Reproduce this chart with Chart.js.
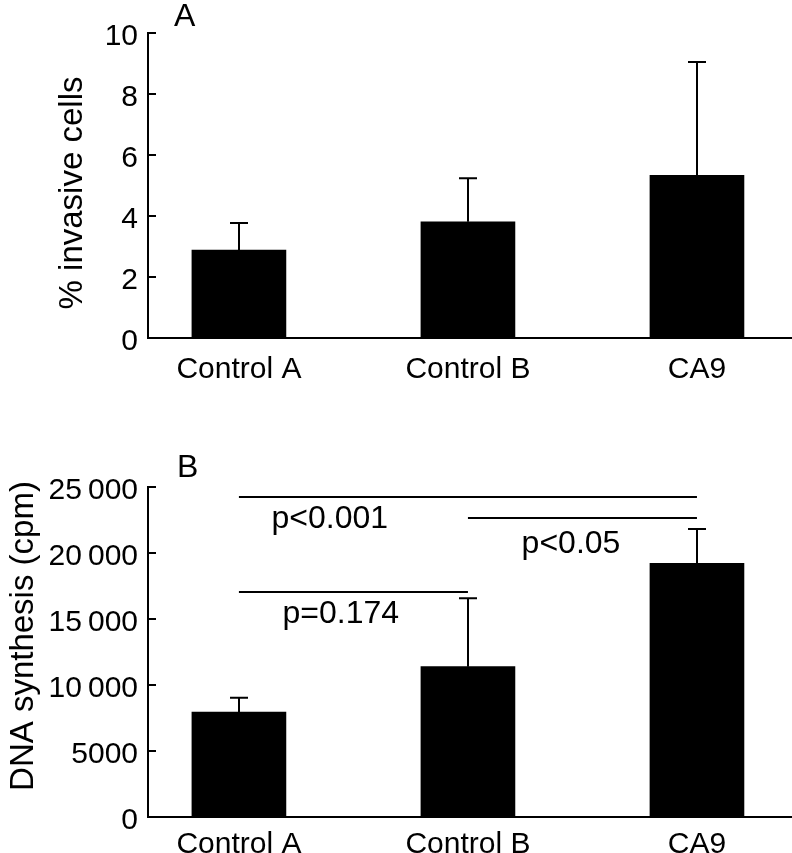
<!DOCTYPE html>
<html>
<head>
<meta charset="utf-8">
<script src="https://cdn.jsdelivr.net/npm/chart.js@4.4.0/dist/chart.umd.min.js"></script>
<style>
  body { margin: 0; background: #fff; width: 792px; height: 853px; overflow: hidden; position: relative; }
  canvas { position: absolute; left: 0; }
  #chartA { top: 0; }
  #chartB { top: 440px; }
</style>
</head>
<body>
<canvas id="chartA" width="792" height="410"></canvas>
<canvas id="chartB" width="792" height="413"></canvas>
<script>
// data
const categories = ['Control A', 'Control B', 'CA9'];
const invasiveMean = [2.88, 3.81, 5.33];
const invasiveErr = [0.89, 1.43, 3.72];
const invasiveTicks = [0, 2, 4, 6, 8, 10];
const dnaMean = [7950, 11390, 19220];
const dnaErr = [1090, 5180, 2600];
const dnaTicks = [0, 5000, 10000, 15000, 20000, 25000];
const comparisons = [
  { from: 0, to: 2, label: 'p<0.001' },
  { from: 1, to: 2, label: 'p<0.05' },
  { from: 0, to: 1, label: 'p=0.174' }
];

Chart.defaults.font.family = '"Liberation Sans", Arial, sans-serif';
Chart.defaults.color = '#000';
Chart.defaults.animation = false;

const FONT = '"Liberation Sans", Arial, sans-serif';

// error bars + inward tick marks on the y axis
const errorBarPlugin = {
  id: 'errorBars',
  afterDraw(chart, args, opts) {
    const { ctx, scales: { x, y } } = chart;
    ctx.save();
    ctx.strokeStyle = '#000';
    ctx.lineWidth = 2;
    y.ticks.forEach(t => {
      const py = Math.round(y.getPixelForValue(t.value));
      ctx.beginPath();
      ctx.moveTo(x.left, py);
      ctx.lineTo(x.left + 8, py);
      ctx.stroke();
    });
    const data = chart.data.datasets[0].data;
    data.forEach((pt, i) => {
      const px = Math.round(x.getPixelForValue(pt.x));
      const top = y.getPixelForValue(pt.y + opts.err[i]);
      const base = y.getPixelForValue(pt.y);
      ctx.beginPath();
      ctx.moveTo(px, base);
      ctx.lineTo(px, top);
      ctx.moveTo(px - 9, top);
      ctx.lineTo(px + 9, top);
      ctx.stroke();
    });
    ctx.restore();
  }
};

// panel letter, rotated y title, significance bars
const textPlugin = {
  id: 'panelText',
  afterDraw(chart, args, opts) {
    const { ctx, scales: { x, y } } = chart;
    ctx.save();
    ctx.fillStyle = '#000';
    ctx.font = '32px ' + FONT;
    ctx.textAlign = 'left';
    ctx.textBaseline = 'alphabetic';
    ctx.fillText(opts.letter, opts.letterX, opts.letterY);

    ctx.save();
    ctx.translate(opts.titleX, opts.titleY);
    ctx.rotate(-Math.PI / 2);
    ctx.textAlign = 'center';
    ctx.font = '33px ' + FONT;
    ctx.fillText(opts.title, 0, 0);
    ctx.restore();

    (opts.sig || []).forEach(s => {
      const x1 = x.getPixelForValue(s.from);
      const x2 = x.getPixelForValue(s.to);
      const ly = Math.round(y.getPixelForValue(s.level));
      ctx.strokeStyle = '#000';
      ctx.lineWidth = 2;
      ctx.beginPath();
      ctx.moveTo(x1, ly);
      ctx.lineTo(x2, ly);
      ctx.stroke();
      ctx.font = '32px ' + FONT;
      ctx.textAlign = 'center';
      ctx.fillText(s.label, x.getPixelForValue(s.textAt), y.getPixelForValue(s.textLevel));
    });
    ctx.restore();
  }
};

function makeChart(id, means, errs, ticks, yMax, step, chartTop, chartBottom, labelPad, fmt, panel) {
  const canvas = document.getElementById(id);
  return new Chart(canvas, {
    type: 'bar',
    data: {
      datasets: [{
        data: means.map((v, i) => ({ x: i, y: v })),
        backgroundColor: '#000',
        borderWidth: 0,
        barThickness: 94
      }]
    },
    options: {
      responsive: false,
      layout: { padding: { top: chartTop, right: 0, left: 0, bottom: 0 } },
      plugins: {
        legend: { display: false },
        tooltip: { enabled: false },
        errorBars: { err: errs },
        panelText: panel
      },
      scales: {
        x: {
          type: 'linear',
          offset: false,
          min: -0.397,
          max: 2.415,
          afterBuildTicks: s => { s.ticks = categories.map((c, i) => ({ value: i })); },
          afterFit: s => { s.height = canvas.height - chartBottom; },
          ticks: {
            callback: v => categories[v],
            font: { size: 30 },
            padding: labelPad,
            maxRotation: 0,
            autoSkip: false
          },
          grid: { display: false, drawTicks: false, offset: false },
          border: { display: true, color: '#000', width: 2 }
        },
        y: {
          min: 0,
          max: yMax,
          afterBuildTicks: s => { s.ticks = ticks.map(v => ({ value: v })); },
          afterFit: s => { s.width = 148; },
          ticks: {
            stepSize: step,
            callback: fmt,
            font: { size: 30 },
            padding: 10,
            labelOffset: 4
          },
          grid: { display: false, drawTicks: false },
          border: { display: true, color: '#000', width: 2 }
        }
      }
    },
    plugins: [errorBarPlugin, textPlugin]
  });
}

const thousands = v => v >= 10000 ? Math.floor(v / 1000) + '\u2009' + String(v % 1000).padStart(3, '0') : String(v);

makeChart('chartA', invasiveMean, invasiveErr, invasiveTicks, 10, 2, 33, 338, 14, v => String(v), {
  letter: 'A', letterX: 174, letterY: 26,
  title: '% invasive cells', titleX: 82, titleY: 193
});

makeChart('chartB', dnaMean, dnaErr, dnaTicks, 25000, 5000, 47, 377, 10, thousands, {
  letter: 'B', letterX: 177, letterY: 37,
  title: 'DNA synthesis (cpm)', titleX: 33, titleY: 196,
  sig: [
    { from: comparisons[0].from, to: comparisons[0].to, label: comparisons[0].label, level: 24270, textAt: 0.397, textLevel: 21890 },
    { from: comparisons[1].from, to: comparisons[1].to, label: comparisons[1].label, level: 22630, textAt: 1.45, textLevel: 20000 },
    { from: comparisons[2].from, to: comparisons[2].to, label: comparisons[2].label, level: 17070, textAt: 0.445, textLevel: 14700 }
  ]
});
</script>
</body>
</html>
